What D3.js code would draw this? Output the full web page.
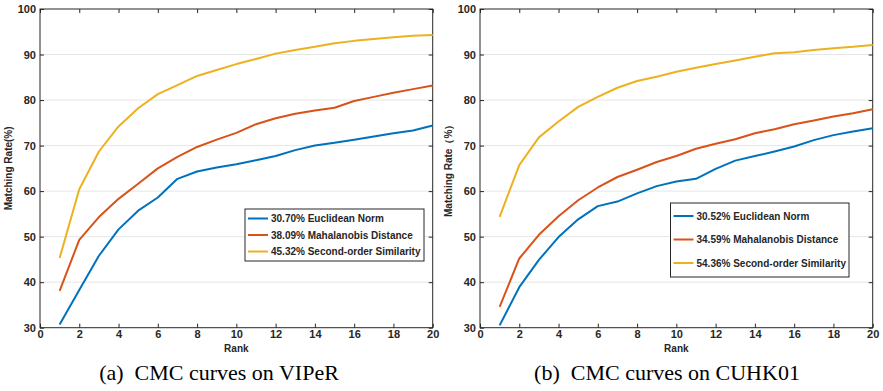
<!DOCTYPE html>
<html>
<head>
<meta charset="utf-8">
<script src="https://cdn.jsdelivr.net/npm/d3@7"></script>
<style>
  body { margin: 0; background: #fff; }
  svg { display: block; }
</style>
</head>
<body>
<div id="chart"></div>
<script>
// ranks 1..20
var ranks = d3.range(1, 21);
var xTicks = [0, 2, 4, 6, 8, 10, 12, 14, 16, 18, 20];
var yTicks = [30, 40, 50, 60, 70, 80, 90, 100];
var seriesColors = ["#0072BD", "#D95319", "#EDB120"];

// (a) VIPeR
var viperEuclid = [30.7, 38.3, 45.8, 51.6, 55.7, 58.6, 62.7, 64.3, 65.2, 65.9, 66.8, 67.7, 69.0, 70.0, 70.6, 71.3, 72.0, 72.7, 73.3, 74.4];
var viperMahal  = [38.09, 49.3, 54.3, 58.3, 61.6, 65.0, 67.5, 69.7, 71.3, 72.8, 74.7, 76.0, 77.0, 77.7, 78.3, 79.8, 80.7, 81.6, 82.4, 83.2];
var viperSecond = [45.32, 60.4, 68.7, 74.2, 78.2, 81.3, 83.3, 85.3, 86.6, 87.9, 89.0, 90.2, 91.0, 91.7, 92.5, 93.0, 93.4, 93.8, 94.1, 94.3];
var viperLegend = ["30.70% Euclidean Norm", "38.09% Mahalanobis Distance", "45.32% Second-order Similarity"];

// (b) CUHK01
var cuhkEuclid = [30.52, 38.9, 44.9, 49.9, 53.8, 56.7, 57.7, 59.5, 61.1, 62.1, 62.7, 64.9, 66.7, 67.7, 68.7, 69.8, 71.2, 72.3, 73.1, 73.8];
var cuhkMahal  = [34.59, 45.2, 50.4, 54.5, 58.0, 60.8, 63.1, 64.7, 66.4, 67.7, 69.3, 70.4, 71.4, 72.7, 73.6, 74.7, 75.5, 76.4, 77.1, 78.0];
var cuhkSecond = [54.36, 65.7, 71.8, 75.3, 78.5, 80.7, 82.7, 84.2, 85.1, 86.2, 87.1, 87.9, 88.7, 89.5, 90.3, 90.5, 91.0, 91.4, 91.7, 92.1];
var cuhkLegend = ["30.52% Euclidean Norm", "34.59% Mahalanobis Distance", "54.36% Second-order Similarity"];

var W = 883, H = 391;
var svg = d3.select("#chart").append("svg").attr("width", W).attr("height", H);

function drawPanel(opt) {
  var g = svg.append("g").attr("transform", "translate(" + opt.left + ",0)");
  var plotW = 392.7, top = 9, bottom = 327.7;

  var x = d3.scaleLinear().domain([0, 20]).range([0, plotW]);
  var y = d3.scaleLinear().domain([30, 100]).range([bottom, top]);

  // grid
  g.selectAll("line.grid")
    .data(yTicks.filter(function (d) { return d > 30 && d < 100; }))
    .enter().append("line")
    .attr("class", "grid")
    .attr("x1", 0).attr("x2", plotW)
    .attr("y1", function (d) { return y(d); })
    .attr("y2", function (d) { return y(d); })
    .attr("stroke", "#e6e6e6")
    .attr("stroke-width", 1);

  g.append("g").attr("transform", "translate(0," + bottom + ")")
    .call(d3.axisBottom(x).tickValues(xTicks).tickSize(-4).tickPadding(3));
  g.append("g")
    .call(d3.axisLeft(y).tickValues(yTicks).tickSize(-4).tickPadding(4));
  g.append("g").attr("transform", "translate(0," + top + ")")
    .call(d3.axisTop(x).tickValues(xTicks).tickSize(-4).tickFormat(""));
  g.append("g").attr("transform", "translate(" + plotW + ",0)")
    .call(d3.axisRight(y).tickValues(yTicks).tickSize(-4).tickFormat(""));

  g.selectAll(".domain").remove();
  g.selectAll(".tick line").attr("stroke", "#262626");
  g.selectAll(".tick text")
    .style("font-family", "'Liberation Sans', Arial, sans-serif")
    .style("font-weight", "bold")
    .style("font-size", "11px")
    .attr("fill", "#262626");

  // frame
  g.append("rect")
    .attr("x", 0).attr("y", top)
    .attr("width", plotW).attr("height", bottom - top)
    .attr("fill", "none").attr("stroke", "#262626").attr("stroke-width", 1);

  // axis titles
  g.append("text")
    .attr("x", plotW / 2).attr("y", 352)
    .attr("text-anchor", "middle")
    .style("font-family", "'Liberation Sans', Arial, sans-serif")
    .style("font-weight", "bold").style("font-size", "10px")
    .attr("fill", "#262626")
    .text("Rank");
  g.append("text")
    .attr("transform", "translate(" + (-28) + "," + ((top + bottom) / 2) + ") rotate(-90)")
    .attr("text-anchor", "middle")
    .style("font-family", "'Liberation Sans', Arial, sans-serif")
    .style("font-weight", "bold").style("font-size", "10px")
    .attr("fill", "#262626")
    .text(opt.ylabel);

  // curves
  var line = d3.line()
    .x(function (d, i) { return x(ranks[i]); })
    .y(function (d) { return y(d); });
  opt.series.forEach(function (s, k) {
    g.append("path")
      .datum(s)
      .attr("d", line)
      .attr("fill", "none")
      .attr("stroke", seriesColors[k])
      .attr("stroke-width", 2)
      .attr("stroke-linejoin", "round");
  });

  // legend
  var lg = svg.append("g").attr("transform", "translate(" + opt.legend.x + "," + opt.legend.y + ")");
  lg.append("rect")
    .attr("width", opt.legend.w).attr("height", opt.legend.h)
    .attr("fill", "#fff").attr("stroke", "#262626").attr("stroke-width", 1);
  opt.labels.forEach(function (t, k) {
    var cy = opt.legend.first + k * opt.legend.step;
    lg.append("line")
      .attr("x1", 3).attr("x2", 23)
      .attr("y1", cy).attr("y2", cy)
      .attr("stroke", seriesColors[k]).attr("stroke-width", 2);
    lg.append("text")
      .attr("x", 26).attr("y", cy)
      .attr("dy", "0.35em")
      .style("font-family", "'Liberation Sans', Arial, sans-serif")
      .style("font-weight", "bold").style("font-size", "10px")
      .attr("fill", "#262626")
      .text(t);
  });

  // caption
  svg.append("text")
    .attr("x", opt.capX).attr("y", 380)
    .attr("text-anchor", "middle")
    .style("font-family", "'Liberation Serif', 'Times New Roman', serif")
    .style("font-size", "22px")
    .attr("fill", "#000")
    .text(opt.caption);
}

drawPanel({
  left: 40,
  series: [viperEuclid, viperMahal, viperSecond],
  labels: viperLegend,
  ylabel: "Matching Rate(%)",
  legend: { x: 245, y: 209, w: 179, h: 52, first: 9.5, step: 16.5 },
  caption: "(a)\u00a0 CMC curves on VIPeR",
  capX: 219
});

drawPanel({
  left: 480,
  series: [cuhkEuclid, cuhkMahal, cuhkSecond],
  labels: cuhkLegend,
  ylabel: "Matching Rate\uff08%\uff09",
  legend: { x: 670.5, y: 203, w: 178.5, h: 74, first: 13, step: 23.5 },
  caption: "(b)\u00a0 CMC curves on CUHK01",
  capX: 667
});
</script>
</body>
</html>
